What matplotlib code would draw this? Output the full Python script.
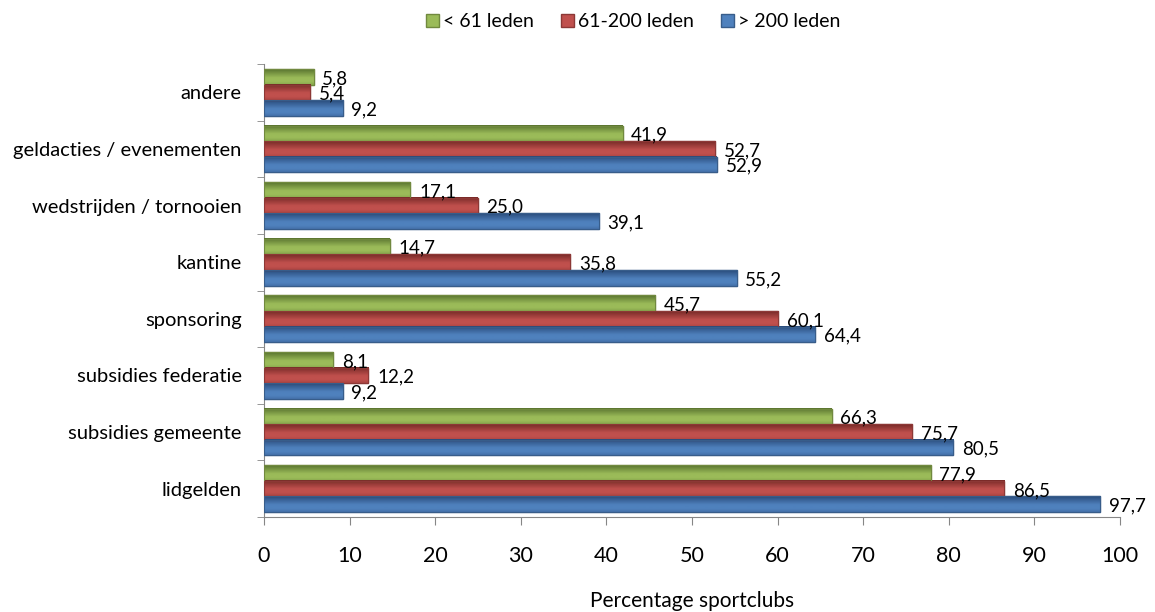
import matplotlib
matplotlib.use("Agg")
import matplotlib.pyplot as plt
import numpy as np
from matplotlib.colors import to_rgb

categories = ["andere", "geldacties / evenementen", "wedstrijden / tornooien", "kantine",
              "sponsoring", "subsidies federatie", "subsidies gemeente", "lidgelden"]
series_names = ["< 61 leden", "61-200 leden", "> 200 leden"]
small = [5.8, 41.9, 17.1, 14.7, 45.7, 8.1, 66.3, 77.9]
medium = [5.4, 52.7, 25.0, 35.8, 60.1, 12.2, 75.7, 86.5]
large = [9.2, 52.9, 39.1, 55.2, 64.4, 9.2, 80.5, 97.7]
xticks = [0, 10, 20, 30, 40, 50, 60, 70, 80, 90, 100]

plt.rcParams['font.family'] = ['Lato', 'DejaVu Sans']

fig = plt.figure(figsize=(11.55, 6.12), dpi=100)
ax = fig.add_axes([0.2286, 0.1552, 0.7411, 0.7402])

colors = ["#9BBB59", "#C0504D", "#4F81BD"]
darks = ["#5A7530", "#782A28", "#2A4C7C"]
edges = ["#71893F", "#8C3836", "#385D8A"]


def gradient(base, dark, n=40):
    b = np.array(to_rgb(base))
    d = np.array(to_rgb(dark))
    t = np.linspace(0, 1, n)
    # dark at top, light through lower part, slightly darker at bottom edge
    w = np.clip(t / 0.55, 0, 1)
    w = w - 0.3 * np.clip((t - 0.8) / 0.2, 0, 1)
    w = np.clip(w, 0, 1)
    img = d[None, :] * (1 - w[:, None]) + b[None, :] * w[:, None]
    return img[:, None, :]


h = 0.275
y = np.arange(len(categories))
for k, (vals, c, dk, e) in enumerate(zip([small, medium, large], colors, darks, edges)):
    pos = y + (k - 1) * h
    bars = ax.barh(pos, vals, height=h, color=c, edgecolor=e, linewidth=1.0,
                   label=series_names[k], zorder=3)
    img = gradient(c, dk)
    for p, v in zip(pos, vals):
        ax.imshow(img, extent=[0, v, p + h / 2, p - h / 2], origin="upper",
                  aspect="auto", zorder=3.5, interpolation="bilinear")
        ax.text(v + 1.0, p + 0.03, f"{v:.1f}".replace(".", ","), va="center", ha="left",
                fontsize=13.5, color="#000000", zorder=4)
    for b in bars:
        ax.add_patch(plt.Rectangle(b.get_xy(), b.get_width(), b.get_height(), fill=False,
                                   edgecolor=e, linewidth=0.8, zorder=3.6))

ax.set_ylim(len(categories) - 0.5, -0.5)
ax.set_xlim(0, 100)
ax.set_yticks(y)
ax.set_yticklabels(categories, fontsize=14.5)
ax.tick_params(axis="y", length=0, pad=16)
ax.set_yticks(np.arange(-0.5, len(categories), 1.0), minor=True)
ax.tick_params(axis="y", which="minor", length=5, color="#868686", direction="out")
ax.set_xticks(xticks)
ax.set_xticklabels([str(t) for t in xticks], fontsize=15.5)
ax.tick_params(axis="x", length=6, color="#868686", direction="out", pad=15)
for s in ["top", "right"]:
    ax.spines[s].set_visible(False)
for s in ["left", "bottom"]:
    ax.spines[s].set_color("#868686")
ax.set_xlabel("Percentage sportclubs", fontsize=15, labelpad=18)

leg = fig.legend(loc="upper center", bbox_to_anchor=(0.548, 1.007), ncol=3, frameon=False,
                 fontsize=14, handlelength=0.67, handleheight=0.67, handletextpad=0.2,
                 columnspacing=1.4)

fig.savefig("out.png", dpi=100)
